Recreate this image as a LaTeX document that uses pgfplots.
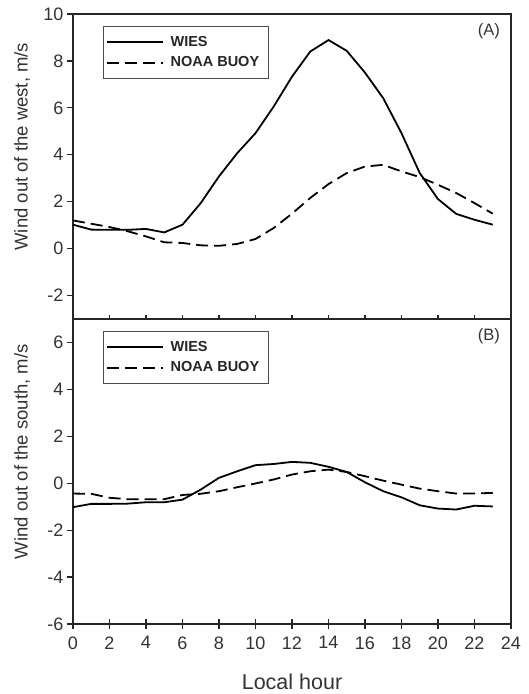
\documentclass[border=0pt]{standalone}
\usepackage{pgfplots}
\pgfplotsset{compat=1.18}
\usepackage{fontspec}
\setmainfont{Liberation Sans}

\pgfplotstableread{
h  wies  noaa
0  1.02  1.20
1  0.81  1.06
2  0.80  0.92
3  0.80  0.74
4  0.84  0.52
5  0.69  0.27
6  1.02  0.24
7  1.94  0.14
8  3.08  0.12
9  4.07  0.20
10 4.92  0.41
11 6.06  0.88
12 7.33  1.49
13 8.40  2.16
14 8.89  2.75
15 8.43  3.22
16 7.50  3.50
17 6.41  3.57
18 4.92  3.29
19 3.22  3.05
20 2.11  2.72
21 1.48  2.37
22 1.23  1.94
23 1.02  1.49
}\westdata

\pgfplotstableread{
h  wies   noaa
0  -1.02  -0.44
1  -0.88  -0.45
2  -0.88  -0.62
3  -0.87  -0.68
4  -0.81  -0.68
5  -0.81  -0.68
6  -0.70  -0.50
7  -0.27  -0.45
8  0.23   -0.34
9  0.51   -0.17
10 0.77   -0.01
11 0.82   0.16
12 0.91   0.37
13 0.87   0.51
14 0.70   0.58
15 0.48   0.48
16 0.04   0.30
17 -0.34  0.11
18 -0.60  -0.06
19 -0.94  -0.23
20 -1.08  -0.34
21 -1.12  -0.44
22 -0.96  -0.44
23 -0.99  -0.41
}\southdata

\pgfplotsset{
  panel/.style={
    scale only axis, width=438pt, height=305pt,
    xmin=0, xmax=24, xtick=\empty,
    ytick pos=left, xtick pos=lower,
    tick align=outside, major tick length=6pt,
    axis line style={line width=1.4pt, black!85},
    every tick/.style={line width=1.2pt, black!85},
    tick label style={font=\fontsize{18}{19}\selectfont, text=black!80},
    /pgf/number format/assume math mode=true,
    ylabel style={at={(axis description cs:-0.1164,0.565)}, anchor=center,
      font=\fontsize{18.5}{20}\selectfont, text=black!80},
    legend style={at={(axis description cs:0.0685,0.961)}, anchor=north west,
      draw=black!70, line width=0.6pt, text=black!85,
      font=\bfseries\fontsize{14.5}{16}\selectfont,
      inner xsep=2.5pt, inner ysep=7pt, row sep=3pt,
      nodes={inner xsep=7pt, inner ysep=3pt}},
    legend cell align=left,
    legend image code/.code={\draw[##1] (0pt,0pt) -- (56pt,0pt);},
    wies/.style={black, line width=1.8pt},
    noaa/.style={black, line width=1.8pt, dash pattern=on 12pt off 6pt},
  }
}

\begin{document}
\begin{tikzpicture}
\useasboundingbox (-73pt,-375pt) rectangle (456pt,319pt);
\begin{axis}[panel, at={(0pt,0pt)}, anchor=south west,
  ymin=-3, ymax=10, ytick={-2,0,2,4,6,8,10},
  extra x ticks={2,4,...,22}, extra x tick labels={},
  extra x tick style={tick align=inside, major tick length=4pt},
  ylabel={Wind out of the west, m/s}]
\addplot[wies] table[x=h, y=wies] {\westdata};
\addlegendentry{WIES}
\addplot[noaa] table[x=h, y=noaa] {\westdata};
\addlegendentry{NOAA BUOY}
\node[anchor=north east, inner sep=0pt, font=\fontsize{16.5}{18}\selectfont, text=black!80]
  at (axis description cs:0.975,0.9705) {(A)};
\end{axis}
\begin{axis}[panel, at={(0pt,0pt)}, anchor=north west,
  ymin=-6, ymax=7, ytick={-6,-4,-2,0,2,4,6},
  extra x ticks={0,2,...,24},
  extra x tick style={tick align=center, major tick length=10pt,
    xticklabel style={yshift=-4pt}},
  xlabel={Local hour},
  xlabel style={at={(axis description cs:0.5,0)}, yshift=-65pt, anchor=base,
    font=\fontsize{21.5}{23}\selectfont, text=black!80},
  ylabel={Wind out of the south, m/s}]
\addplot[wies] table[x=h, y=wies] {\southdata};
\addlegendentry{WIES}
\addplot[noaa] table[x=h, y=noaa] {\southdata};
\addlegendentry{NOAA BUOY}
\node[anchor=north east, inner sep=0pt, font=\fontsize{16.5}{18}\selectfont, text=black!80]
  at (axis description cs:0.975,0.9705) {(B)};
\end{axis}
\end{tikzpicture}
\end{document}
